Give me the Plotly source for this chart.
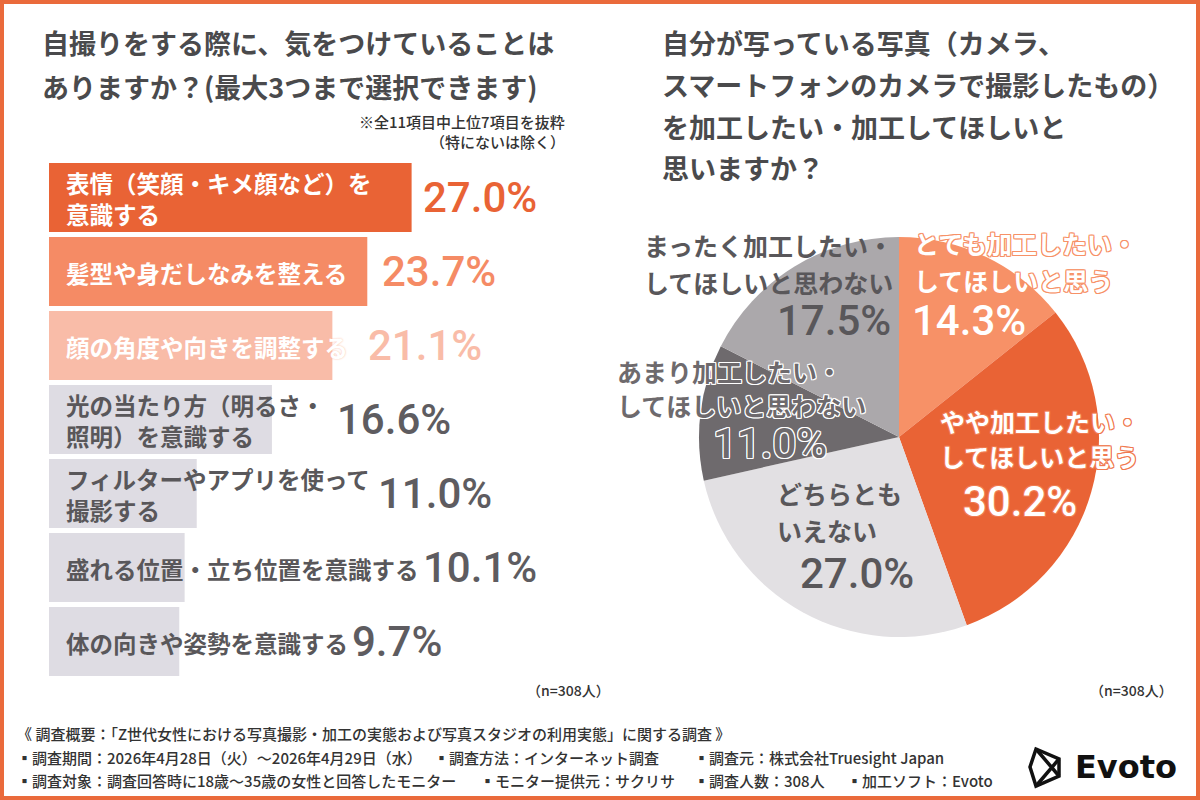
import plotly.graph_objects as go

# ---------------- data ----------------
bar_categories = [
    "表情（笑顔・キメ顔など）を<br>意識する",
    "髪型や身だしなみを整える",
    "顔の角度や向きを調整する",
    "光の当たり方（明るさ・<br>照明）を意識する",
    "フィルターやアプリを使って<br>撮影する",
    "盛れる位置・立ち位置を意識する",
    "体の向きや姿勢を意識する",
]
bar_values = [27.0, 23.7, 21.1, 16.6, 11.0, 10.1, 9.7]

pie_labels = [
    "とても加工したい・<br>してほしいと思う",
    "やや加工したい・<br>してほしいと思う",
    "どちらとも<br>いえない",
    "あまり加工したい・<br>してほしいと思わない",
    "まったく加工したい・<br>してほしいと思わない",
]
pie_values = [14.3, 30.2, 27.0, 11.0, 17.5]

left_title = ["自撮りをする際に、気をつけていることは", "ありますか？(最大3つまで選択できます)"]
right_title = ["自分が写っている写真（カメラ、", "スマートフォンのカメラで撮影したもの）",
               "を加工したい・加工してほしいと", "思いますか？"]
notes = ["※全11項目中上位7項目を抜粋", "（特にないは除く）"]
sample_note = "（n=308人）"
footer_lines = [
    ["《 調査概要：「Z世代女性における写真撮影・加工の実態および写真スタジオの利用実態」に関する調査 》"],
    ["▪調査期間：2026年4月28日（火）～2026年4月29日（水）", "▪調査方法：インターネット調査", "▪調査元：株式会社Truesight Japan"],
    ["▪調査対象：調査回答時に18歳～35歳の女性と回答したモニター", "▪モニター提供元：サクリサ", "▪調査人数：308人", "▪加工ソフト：Evoto"],
]
brand = "Evoto"

# ---------------- styles / layout ----------------
W, H = 1200, 800
def px(x): return x / W
def py(y): return 1 - y / H

JP = "Noto Sans CJK JP, Noto Sans, sans-serif"
NUM = "Roboto, Noto Sans CJK JP, sans-serif"
NUM_SIZE = 42
ORANGE = "#E96335"
SALMON = "#F58B65"
PALE = "#F9BCA8"
BARGRAY = "#DEDCE3"
TXTGRAY = "#59575A"
TITLE = "#4A4A4C"

bar_colors = [ORANGE, SALMON, PALE, BARGRAY, BARGRAY, BARGRAY, BARGRAY]
bar_text_colors = ["white", "white", "white", TXTGRAY, TXTGRAY, TXTGRAY, TXTGRAY]
bar_pct_colors = [ORANGE, SALMON, PALE, "#5E5C60", "#5E5C60", "#5E5C60", "#5E5C60"]
bar_pct_x = [27.85, 24.8, 23.75, 21.44, 24.5, 27.85, 22.56]   # label anchor (axis units)

pie_colors = ["#F79167", ORANGE, "#E2E0E3", "#6E6A6D", "#ABA8AB"]
# pixel anchors for pie labels: (x, y line1, y line2, pct x, pct y)
pie_label_pos = [
    (912, 243, 280, 910, 320),
    (938, 421, 456, 961, 501),
    (775, 493, 530, 798, 573),
    (615, 371, 405, 711, 443),
    (642, 245, 282, 775, 320),
]
def outline(c, w=1):
    return ", ".join(f"{dx}px {dy}px 0 {c}" for dx in (-w, 0, w) for dy in (-w, 0, w) if dx or dy)
pie_text_styles = [
    dict(color="white", shadow=outline("#F79167")),
    dict(color="white", shadow=outline("#F07A50")),
    dict(color=TXTGRAY, shadow="none"),
    dict(color="#6E6A6D", shadow=outline("white")),
    dict(color=TXTGRAY, shadow="none"),
]

x_left_px, x_right_px = 49, 600
px_per_unit = 13.43
x_range = [0, (x_right_px - x_left_px) / px_per_unit]

fig = go.Figure()

fig.add_trace(go.Bar(
    x=bar_values, y=bar_categories, orientation="h",
    marker=dict(color=bar_colors, line=dict(width=0)),
    hoverinfo="x+y", showlegend=False,
    xaxis="x", yaxis="y",
))

fig.add_trace(go.Pie(
    values=pie_values, labels=pie_labels,
    marker=dict(colors=pie_colors, line=dict(width=0)),
    sort=False, direction="clockwise", rotation=0,
    textinfo="none", hoverinfo="label+value", showlegend=False,
    domain=dict(x=[px(699), px(1099)], y=[py(637), py(237)]),
))

ann = []
# titles
for i, t in enumerate(left_title):
    ann.append(dict(text=t, x=px(40), y=py([43, 86][i]), xanchor="left", yanchor="middle",
                    font=dict(family=JP, size=27, color=TITLE, weight=700)))
for i, t in enumerate(right_title):
    ann.append(dict(text=t, x=px(660), y=py([43, 85, 127, 167][i]), xanchor="left", yanchor="middle",
                    font=dict(family=JP, size=27, color=TITLE, weight=700)))
for i, t in enumerate(notes):
    ann.append(dict(text=t, x=px(567), y=py([122, 141][i]), xanchor="right", yanchor="middle",
                    font=dict(family=JP, size=15, color="#333333", weight=500)))

# bar labels
for i, (cat, v) in enumerate(zip(bar_categories, bar_values)):
    ann.append(dict(text=cat, x=0, y=cat, xref="x", yref="y", xanchor="left", yanchor="middle",
                    align="left", xshift=15, yshift=-1,
                    font=dict(family=JP, size=23.5, color=bar_text_colors[i], weight=700,
                              shadow=("0 0 2px " + PALE) if i == 2 else "none")))
    ann.append(dict(text=f"{v:.1f}%", x=bar_pct_x[i], y=cat, xref="x", yref="y",
                    xanchor="left", yanchor="middle", xshift=-2,
                    font=dict(family=NUM, size=NUM_SIZE, color=bar_pct_colors[i], weight=500)))

# pie labels
for i, (lab, v) in enumerate(zip(pie_labels, pie_values)):
    lx, y1, y2, pxx, pyy = pie_label_pos[i]
    st = pie_text_styles[i]
    for j, ln in enumerate(lab.split("<br>")):
        ann.append(dict(text=ln, x=px(lx), y=py([y1, y2][j]), xanchor="left", yanchor="middle",
                        font=dict(family=JP, size=25, weight=700, **st)))
    ann.append(dict(text=f"{v:.1f}%", x=px(pxx), y=py(pyy), xanchor="left", yanchor="middle",
                    font=dict(family=NUM, size=NUM_SIZE, weight=500, **st)))

# sample notes
for x0 in (525, 1088):
    ann.append(dict(text=sample_note, x=px(x0), y=py(690), xanchor="left", yanchor="middle",
                    font=dict(family=JP, size=14, color="#333333", weight=500)))

# footer
footer_x = [[15], [15, 432, 692], [15, 478, 692, 845]]
footer_y = [733, 757, 780]
for r, row in enumerate(footer_lines):
    for c, t in enumerate(row):
        ann.append(dict(text=t, x=px(footer_x[r][c]), y=py(footer_y[r]), xanchor="left", yanchor="middle",
                        font=dict(family=JP, size=15, color="#333333", weight=500)))

# brand
ann.append(dict(text=brand, x=px(1073), y=py(767), xanchor="left", yanchor="middle",
                font=dict(family="DejaVu Sans, Inter, sans-serif", size=32, color="#111111", weight=700)))

for a in ann:
    a.setdefault("xref", "paper")
    a.setdefault("yref", "paper")
    a["showarrow"] = False

shapes = [
    dict(type="rect", xref="paper", yref="paper", x0=px(2), x1=px(1198), y0=py(798), y1=py(2),
         line=dict(color="#EA6A3B", width=4), fillcolor="rgba(0,0,0,0)", layer="above"),
    dict(type="path", xref="paper", yref="paper",
         path=f"M {px(1036)},{py(749)} L {px(1059)},{py(759)} L {px(1059)},{py(776)} L {px(1036)},{py(786)} L {px(1030)},{py(767)} Z",
         line=dict(color="#111111", width=3.5), fillcolor="rgba(0,0,0,0)"),
    dict(type="path", xref="paper", yref="paper",
         path=f"M {px(1036)},{py(749)} L {px(1059)},{py(776)} M {px(1036)},{py(786)} L {px(1059)},{py(759)}",
         line=dict(color="#111111", width=3.5)),
]

fig.update_layout(
    width=W, height=H,
    margin=dict(l=0, r=0, t=0, b=0),
    paper_bgcolor="white", plot_bgcolor="rgba(0,0,0,0)",
    bargap=0.068,
    xaxis=dict(domain=[px(x_left_px), px(x_right_px)], range=x_range, visible=False, fixedrange=True),
    yaxis=dict(domain=[py(678.5), py(160.5)], autorange="reversed", visible=False,
               categoryorder="array", categoryarray=bar_categories, fixedrange=True),
    annotations=ann, shapes=shapes,
    showlegend=False,
)

fig.write_html("out.html")
